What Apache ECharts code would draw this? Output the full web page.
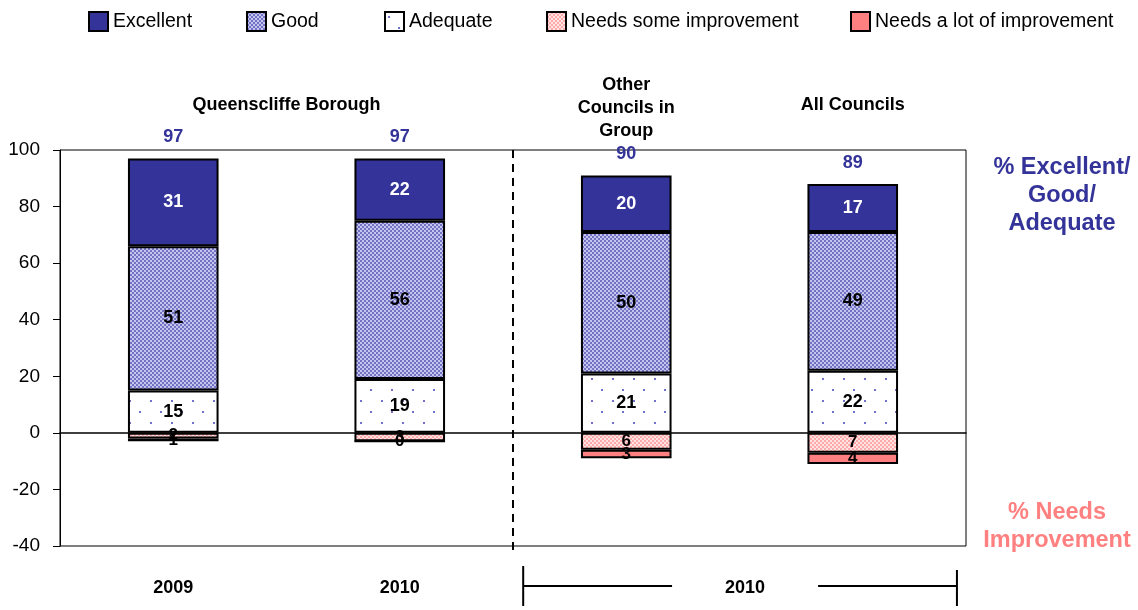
<!DOCTYPE html>
<html>
<head>
<meta charset="utf-8">
<script src="https://cdn.jsdelivr.net/npm/echarts@6/dist/echarts.min.js"></script>
<style>
html,body{margin:0;padding:0;background:#fff;}
#chart{width:1138px;height:610px;}
</style>
</head>
<body>
<div id="chart"></div>
<script>
const categories = ['Queenscliffe 2009', 'Queenscliffe 2010', 'Other Councils 2010', 'All Councils 2010'];
const yearLabels = ['2009', '2010', '', ''];
const excellent = [31, 22, 20, 17];
const good = [51, 56, 50, 49];
const adequate = [15, 19, 21, 22];
const needsSome = [-2, -3, -6, -7];
const needsLot = [-1, 0, -3, -4];
const totals = [97, 97, 90, 89];
const groupHeaders = ['Queenscliffe Borough', 'Other\nCouncils in\nGroup', 'All Councils'];
const bracketLabel = '2010';
const yMin = -40, yMax = 100, yStep = 20;

const FONT = 'Arial, "Liberation Sans", sans-serif';

function makePattern(w, h, bg, dots) {
  const cv = document.createElement('canvas');
  cv.width = w; cv.height = h;
  const ctx = cv.getContext('2d');
  ctx.fillStyle = bg; ctx.fillRect(0, 0, w, h);
  dots.forEach(d => { ctx.fillStyle = d[4]; ctx.fillRect(d[0], d[1], d[2], d[3]); });
  return { image: cv, repeat: 'repeat' };
}
const goodPat = makePattern(4, 4, '#c4c4ec', [[0,0,2,2,'#7373c6'],[2,2,2,2,'#7373c6']]);
const adeqPat = makePattern(21, 22, '#ffffff', [[3,4,2,2,'#7070c8'],[13,15,2,2,'#7070c8']]);
const somePat = makePattern(4, 4, '#ffe2e2', [[0,0,2,2,'#ffaaaa'],[2,2,2,2,'#ffaaaa']]);

const chart = echarts.init(document.getElementById('chart'));

const barBase = {
  type: 'bar', stack: 'all', barWidth: '40%',
  itemStyle: { borderColor: '#000', borderWidth: 2 },
  label: { show: true, position: 'inside', fontFamily: FONT, fontWeight: 'bold', fontSize: 18, color: '#000',
           formatter: p => String(Math.abs(p.value)) }
};

function legendAt(left, name) {
  return { data: [name], left: left, top: 11, padding: 0, icon: 'rect', itemWidth: 19, itemHeight: 19, itemGap: 5,
    textStyle: { fontFamily: FONT, fontSize: 19.5, color: '#000' },
    itemStyle: { borderColor: '#000', borderWidth: 2 } };
}

chart.setOption({
  animation: false,
  legend: [
    legendAt(88, 'Excellent'),
    legendAt(246, 'Good'),
    legendAt(384, 'Adequate'),
    legendAt(546, 'Needs some improvement'),
    legendAt(850, 'Needs a lot of improvement')
  ],
  grid: { left: 60, right: 172, top: 150, bottom: 64, show: true, borderColor: '#000', borderWidth: 1 },
  xAxis: [
    { type: 'category', data: categories, axisLine: { onZero: true, lineStyle: { color: '#000', width: 1.5 } },
      axisTick: { show: false }, axisLabel: { show: false } },
    { type: 'category', data: categories, position: 'bottom', axisLine: { show: false }, axisTick: { show: false },
      axisLabel: { margin: 33, fontFamily: FONT, fontSize: 18, fontWeight: 'bold', color: '#000',
                   formatter: (v, i) => yearLabels[i] } }
  ],
  yAxis: {
    type: 'value', min: yMin, max: yMax, interval: yStep,
    axisLine: { show: true, lineStyle: { color: '#000', width: 1 } },
    axisTick: { show: true, length: 7, lineStyle: { color: '#000' } },
    splitLine: { show: false },
    axisLabel: { fontFamily: FONT, fontSize: 19, color: '#000', margin: 20 }
  },
  series: [
    Object.assign({}, barBase, { name: 'Adequate', data: adequate, itemStyle: { color: adeqPat, borderColor: '#000', borderWidth: 2 } }),
    Object.assign({}, barBase, { name: 'Good', data: good, itemStyle: { color: goodPat, borderColor: '#000', borderWidth: 2 } }),
    Object.assign({}, barBase, { name: 'Excellent', data: excellent, itemStyle: { color: '#333399', borderColor: '#000', borderWidth: 2 },
      label: Object.assign({}, barBase.label, { color: '#fff' }) }),
    { type: 'bar', stack: 'all', barWidth: '40%', name: 'totals', data: totals.map(() => 0),
      itemStyle: { color: 'transparent', borderWidth: 0 },
      label: { show: true, position: 'top', distance: 12, fontFamily: FONT, fontWeight: 'bold', fontSize: 18, color: '#333399',
               formatter: p => String(totals[p.dataIndex]) } },
    Object.assign({}, barBase, { name: 'Needs some improvement', data: needsSome, itemStyle: { color: somePat, borderColor: '#000', borderWidth: 2 },
      label: Object.assign({}, barBase.label, { fontSize: 17 }) }),
    Object.assign({}, barBase, { name: 'Needs a lot of improvement', data: needsLot, itemStyle: { color: '#ff8080', borderColor: '#000', borderWidth: 2 },
      label: Object.assign({}, barBase.label, { fontSize: 17 }) })
  ]
});

(function () {
  const cx = i => chart.convertToPixel({ xAxisIndex: 0 }, categories[i]);
  const py = v => chart.convertToPixel({ yAxisIndex: 0 }, v);
  const bw = cx(1) - cx(0);
  const gTop = py(yMax), gBottom = py(yMin);
  const gridRight = cx(3) + bw / 2;
  const sepX = (cx(1) + cx(2)) / 2;
  const bl = cx(2) - 0.455 * bw, br = cx(3) + 0.46 * bw;
  const bMid = (bl + br) / 2 + 5;
  const bY = gBottom + 40;
  const txt = (x, y, s, color, size) => ({ type: 'text', x: x, y: y, silent: true,
    style: { text: s, fill: color, font: 'bold ' + size + 'px ' + FONT, textAlign: 'center', textVerticalAlign: 'middle', lineHeight: size === 18 ? 23 : 28 } });
  const line = (x1, y1, x2, y2, dash) => ({ type: 'line', silent: true,
    shape: { x1: x1, y1: y1, x2: x2, y2: y2 }, style: { stroke: '#000', lineWidth: 2, lineDash: dash || null } });

  chart.setOption({
    graphic: [
      line(sepX, gTop, sepX, gBottom + 7, [8, 6]),
      txt((cx(0) + cx(1)) / 2, gTop - 45, groupHeaders[0], '#000', 18),
      txt(cx(2), gTop - 42, groupHeaders[1], '#000', 18),
      txt(cx(3), gTop - 45, groupHeaders[2], '#000', 18),
      txt(gridRight + 96, gTop + 46, '% Excellent/\nGood/\nAdequate', '#333399', 23.5),
      txt(gridRight + 91, gBottom - 19, '% Needs\nImprovement', '#ff8080', 23.5),
      line(bl, bY - 20, bl, bY + 20),
      line(br, bY - 16, br, bY + 20),
      line(bl, bY, bMid - 73, bY),
      line(bMid + 73, bY, br, bY),
      txt(bMid, bY + 2, bracketLabel, '#000', 18)
    ]
  });
})();
</script>
</body>
</html>
